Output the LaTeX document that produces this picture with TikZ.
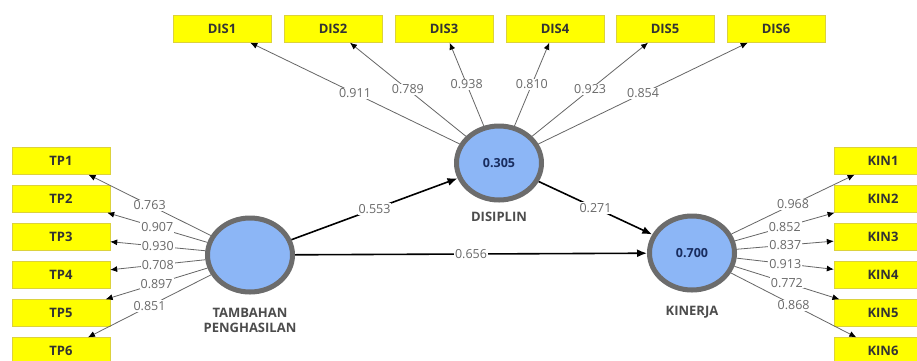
\documentclass[tikz,border=0pt]{standalone}
\usepackage{fontspec}
\setmainfont{Open Sans}
\usetikzlibrary{arrows.meta,shapes.geometric,positioning}
\definecolor{indyellow}{RGB}{255,255,0}
\definecolor{indborder}{RGB}{220,210,60}
\definecolor{lvblue}{RGB}{140,182,246}
\definecolor{lvring}{RGB}{108,108,108}
\definecolor{coefgray}{RGB}{105,105,105}
\definecolor{valnavy}{RGB}{25,45,95}

\begin{document}
\begin{tikzpicture}[x=1pt, y=-1pt,
    indicator/.style={rectangle, draw=indborder, fill=indyellow, minimum width=98pt, minimum height=27pt, inner sep=0pt, font=\fontsize{13}{15}\selectfont\bfseries, text=black!80},
    latent/.style={ellipse, draw=lvring, line width=5pt, fill=lvblue, minimum width=85pt, minimum height=74pt, inner sep=0pt, font=\fontsize{12.5}{14}\selectfont\bfseries, text=valnavy},
    lvname/.style={font=\fontsize{13}{15.5}\selectfont\bfseries, text=black!70, align=center},
    loading/.style={draw=black!60, line width=0.8pt, -{Latex[length=7pt,width=6pt,color=black]}},
    pathline/.style={draw=black, line width=1.6pt, -{Latex[length=10pt,width=8pt]}},
    coef/.style={fill=white, inner sep=1pt, font=\fontsize{12.5}{14}\selectfont, text=coefgray}]

        % fixed page size, white background
        \useasboundingbox (0,0) rectangle (917,360);
        \fill[white] (0,0) rectangle (917,360);

        % Latent variables
        \node[latent] (tp) at (250,255) {};
        \node[latent] (dis) at (499,163) {0.305};
        \node[latent] (kin) at (692,253) {0.700};

        % Names below the latent variables
        \node[lvname, below=10pt of tp] (tpname) {TAMBAHAN\\PENGHASILAN};
        \node[lvname, below=6pt of dis] (disname) {DISIPLIN};
        \node[lvname, below=10pt of kin] (kinname) {KINERJA};

        % Indicators of DISIPLIN along the top
        \node[indicator] (dis1) at (222,29) {DIS1};
        \node[indicator] (dis2) at (333,29) {DIS2};
        \node[indicator] (dis3) at (444,29) {DIS3};
        \node[indicator] (dis4) at (555,29) {DIS4};
        \node[indicator] (dis5) at (665,29) {DIS5};
        \node[indicator] (dis6) at (776,29) {DIS6};

        % Indicators of TAMBAHAN PENGHASILAN on the left
        \node[indicator] (tp1) at (61,161) {TP1};
        \node[indicator] (tp2) at (61,199) {TP2};
        \node[indicator] (tp3) at (61,237) {TP3};
        \node[indicator] (tp4) at (61,275) {TP4};
        \node[indicator] (tp5) at (61,313) {TP5};
        \node[indicator] (tp6) at (61,351) {TP6};

        % Indicators of KINERJA on the right
        \node[indicator] (kin1) at (883,161) {KIN1};
        \node[indicator] (kin2) at (883,199) {KIN2};
        \node[indicator] (kin3) at (883,237) {KIN3};
        \node[indicator] (kin4) at (883,275) {KIN4};
        \node[indicator] (kin5) at (883,313) {KIN5};
        \node[indicator] (kin6) at (883,351) {KIN6};

        % Outer loadings of DISIPLIN
        \draw[loading] (dis) -- node[coef] {0.911} (dis1);
        \draw[loading] (dis) -- node[coef] {0.789} (dis2);
        \draw[loading] (dis) -- node[coef] {0.938} (dis3);
        \draw[loading] (dis) -- node[coef] {0.810} (dis4);
        \draw[loading] (dis) -- node[coef] {0.923} (dis5);
        \draw[loading] (dis) -- node[coef] {0.854} (dis6);

        % Outer loadings of TAMBAHAN PENGHASILAN
        \draw[loading] (tp) -- node[coef] {0.763} (tp1);
        \draw[loading] (tp) -- node[coef] {0.907} (tp2);
        \draw[loading] (tp) -- node[coef] {0.930} (tp3);
        \draw[loading] (tp) -- node[coef] {0.708} (tp4);
        \draw[loading] (tp) -- node[coef] {0.897} (tp5);
        \draw[loading] (tp) -- node[coef] {0.851} (tp6);

        % Outer loadings of KINERJA
        \draw[loading] (kin) -- node[coef] {0.968} (kin1);
        \draw[loading] (kin) -- node[coef] {0.852} (kin2);
        \draw[loading] (kin) -- node[coef] {0.837} (kin3);
        \draw[loading] (kin) -- node[coef] {0.913} (kin4);
        \draw[loading] (kin) -- node[coef] {0.772} (kin5);
        \draw[loading] (kin) -- node[coef] {0.868} (kin6);

        % Path coefficients of the inner model
        \draw[pathline] (tp) -- node[coef] {0.553} (dis);
        \draw[pathline] (dis) -- node[coef] {0.271} (kin);
        \draw[pathline] (tp) -- node[coef] {0.656} (kin);
    \end{tikzpicture}
\end{document}
